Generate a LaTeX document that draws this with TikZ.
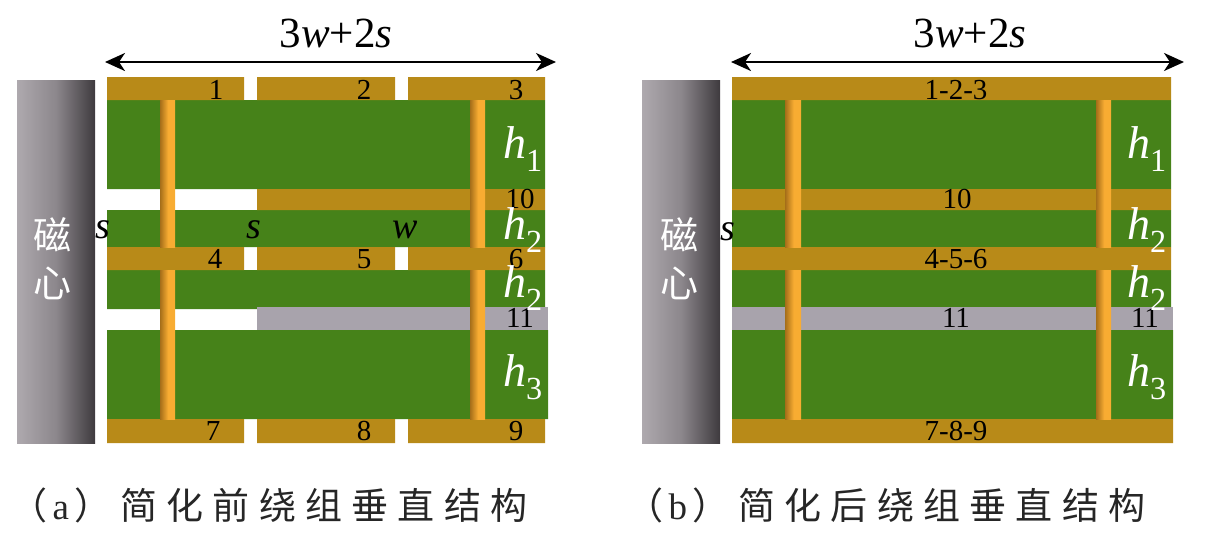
\documentclass[tikz,border=0pt]{standalone}
\usepackage{fontspec}
\setmainfont{Liberation Serif}
\newfontfamily\cjk{Noto Sans CJK SC}
\newfontfamily\cjkcap[LetterSpace=25]{Noto Sans CJK SC}
\usetikzlibrary{arrows.meta}
\definecolor{wgreen}{RGB}{70,130,25}
\definecolor{wbar}{RGB}{184,138,24}
\definecolor{wgray}{RGB}{168,163,172}
\definecolor{stripdark}{RGB}{165,110,25}
\definecolor{stripbright}{RGB}{248,172,50}
\definecolor{corelight}{RGB}{174,169,174}
\definecolor{coremid}{RGB}{140,135,140}
\definecolor{coredark}{RGB}{62,58,62}
\pgfdeclarehorizontalshading{coreshade}{100bp}{color(0bp)=(corelight); color(25bp)=(corelight); color(50bp)=(coremid); color(75bp)=(coredark); color(100bp)=(coredark)}
\pgfdeclarehorizontalshading{stripshade}{100bp}{color(0bp)=(stripdark); color(25bp)=(stripdark); color(52bp)=(stripbright); color(100bp)=(stripbright)}
\tikzset{
	core/.style={shading=coreshade},
	strip/.style={shading=stripshade},
	num/.style={font=\fontsize{29}{29}\selectfont,inner sep=0pt},
	hlab/.style={font=\fontsize{46}{46}\selectfont\itshape,text=white,inner sep=0pt},
	gap/.style={font=\fontsize{38}{38}\selectfont\itshape,inner sep=0pt},
	dimlab/.style={font=\fontsize{43}{43}\selectfont,inner sep=0pt},
	dimarrow/.style={{Stealth[length=20pt,width=18pt,inset=6pt]}-{Stealth[length=20pt,width=18pt,inset=6pt]},line width=2.5pt},
	corelab/.style={font=\cjk\fontsize{38}{38}\selectfont,text=white,inner sep=0pt},
	caption/.style={font=\cjkcap\fontsize{37}{37}\selectfont,inner sep=0pt,text=black!85}
}
\begin{document}
\begin{tikzpicture}[x=1pt,y=-1pt]
	\useasboundingbox (0,0) rectangle (1206,550);
	% (a) before
	\fill[core] (17,80) rectangle (95,443);
	\fill[wgreen] (107,100) rectangle (545,189)
		(107,210) rectangle (545,247)
		(107,270) rectangle (545,309)
		(107,330) rectangle (548,419);
	\fill[wbar] (107,77) rectangle (244,100)
		(257,77) rectangle (395,100)
		(408,77) rectangle (545,100)
		(257,189) rectangle (545,210)
		(107,247) rectangle (244,270)
		(257,247) rectangle (395,270)
		(408,247) rectangle (545,270)
		(107,419) rectangle (244,443)
		(257,419) rectangle (395,443)
		(408,419) rectangle (545,443);
	\fill[wgray] (257,307) rectangle (548,330);
	\fill[strip] (160,100) rectangle (175,247);
	\fill[strip] (160,270) rectangle (175,419);
	\fill[strip] (470,100) rectangle (485,247);
	\fill[strip] (470,270) rectangle (485,419);
	\coordinate (aL) at (105,62);
	\coordinate (aR) at (556,62);
	\draw[dimarrow] (aL) -- (aR);
	\node[dimlab] (aW) at (336,33) {3\textit{w}+2\textit{s}};
	\node[corelab] (aC1) at (52,235) {磁};
	\node[corelab] (aC2) at (52,283) {心};
	\node[num] (a1) at (216,90) {1};
	\node[num] (a2) at (364,90) {2};
	\node[num] (a3) at (516,90) {3};
	\node[num] (a10) at (520,199) {10};
	\node[num] (a4) at (215,259) {4};
	\node[num] (a5) at (364,259) {5};
	\node[num] (a6) at (516,259) {6};
	\node[num] (a11) at (520,318) {11};
	\node[num] (a7) at (213,431) {7};
	\node[num] (a8) at (364,431) {8};
	\node[num] (a9) at (516,431) {9};
	\node[gap] (aS1) at (103,230) {s};
	\node[gap] (aS2) at (254,230) {s};
	\node[gap] (aW1) at (405,230) {w};
	\node[hlab] (aH1) at (523,149) {h\textsubscript{\upshape 1}};
	\node[hlab] (aH2) at (523,230) {h\textsubscript{\upshape 2}};
	\node[hlab] (aH3) at (523,288) {h\textsubscript{\upshape 2}};
	\node[hlab] (aH4) at (523,377) {h\textsubscript{\upshape 3}};
	\node[caption] (aCap) at (269,505) {（\hspace{5pt}{\rmfamily a}\hspace{5pt}）简化前绕组垂直结构};
	% (b) after
	\fill[core] (642,80) rectangle (720,443);
	\fill[wgreen] (732,100) rectangle (1171,189)
		(732,210) rectangle (1171,247)
		(732,270) rectangle (1171,309)
		(732,330) rectangle (1173,419);
	\fill[wbar] (732,77) rectangle (1171,100)
		(732,189) rectangle (1171,210)
		(732,247) rectangle (1171,270)
		(732,419) rectangle (1173,443);
	\fill[wgray] (732,307) rectangle (1173,330);
	\fill[strip] (785,100) rectangle (801,247);
	\fill[strip] (785,270) rectangle (801,419);
	\fill[strip] (1096,100) rectangle (1111,247);
	\fill[strip] (1096,270) rectangle (1111,419);
	\coordinate (bL) at (731,62);
	\coordinate (bR) at (1184,62);
	\draw[dimarrow] (bL) -- (bR);
	\node[dimlab] (bW) at (970,33) {3\textit{w}+2\textit{s}};
	\node[corelab] (bC1) at (679,235) {磁};
	\node[corelab] (bC2) at (679,283) {心};
	\node[num] (b1) at (956,90) {1-2-3};
	\node[num] (b10) at (957,199) {10};
	\node[num] (b4) at (956,259) {4-5-6};
	\node[num] (b11) at (956,318) {11};
	\node[num] (b12) at (1145,318) {11};
	\node[num] (b7) at (956,431) {7-8-9};
	\node[gap] (bS) at (728,232) {s};
	\node[hlab] (bH1) at (1147,149) {h\textsubscript{\upshape 1}};
	\node[hlab] (bH2) at (1147,230) {h\textsubscript{\upshape 2}};
	\node[hlab] (bH3) at (1147,288) {h\textsubscript{\upshape 2}};
	\node[hlab] (bH4) at (1147,377) {h\textsubscript{\upshape 3}};
	\node[caption] (bCap) at (886,505) {（\hspace{5pt}{\rmfamily b}\hspace{5pt}）简化后绕组垂直结构};
\end{tikzpicture}
\end{document}
